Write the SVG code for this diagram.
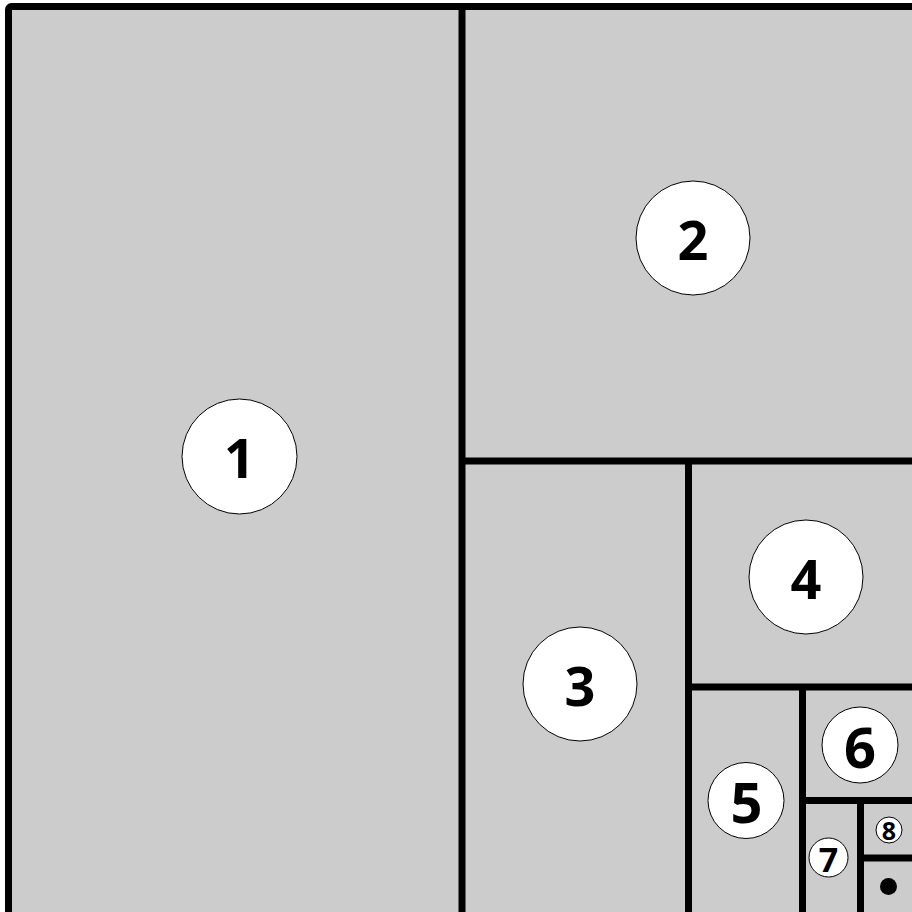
<svg xmlns="http://www.w3.org/2000/svg" width="912" height="912" viewBox="0 0 912 912">
<style>
.cell{fill:#cccccc;stroke:none}
.ln{stroke:#000;stroke-width:7;fill:none}
.c{fill:#fff;stroke:#000;stroke-width:1}
.t{font-family:"Open Sans","Liberation Sans",sans-serif;font-weight:bold;text-anchor:middle;fill:#000}
</style>
<rect width="912" height="912" fill="#ffffff"/>
<rect class="cell" x="8.5" y="7" width="910" height="910"/>
<g id="connectors">
<line class="ln" x1="462" y1="7" x2="462" y2="916"/>
<line class="ln" x1="462" y1="461" x2="916" y2="461"/>
<line class="ln" x1="688.5" y1="461" x2="688.5" y2="916"/>
<line class="ln" x1="688.5" y1="687" x2="916" y2="687"/>
<line class="ln" x1="802.5" y1="687" x2="802.5" y2="916"/>
<line class="ln" x1="802.5" y1="800.5" x2="916" y2="800.5"/>
<line class="ln" x1="860.5" y1="800.5" x2="860.5" y2="916"/>
<line class="ln" x1="860.5" y1="858" x2="916" y2="858"/>
<rect x="8.5" y="6.5" width="912" height="912" rx="3" fill="none" stroke="#000" stroke-width="7"/>
</g>
<g id="n1"><circle class="c" cx="239.5" cy="456.5" r="57.5"/><text class="t" x="239.5" y="478" font-size="54">1</text></g>
<g id="n2"><circle class="c" cx="693" cy="238" r="57"/><text class="t" x="693" y="260" font-size="54">2</text></g>
<g id="n3"><circle class="c" cx="580" cy="684" r="57"/><text class="t" x="580" y="706" font-size="54">3</text></g>
<g id="n4"><circle class="c" cx="806" cy="577" r="57"/><text class="t" x="806" y="599" font-size="54">4</text></g>
<g id="n5"><circle class="c" cx="746" cy="800.5" r="38"/><text class="t" x="746.5" y="823" font-size="56">5</text></g>
<g id="n6"><circle class="c" cx="860" cy="745" r="38"/><text class="t" x="860" y="768" font-size="56">6</text></g>
<g id="n7"><circle class="c" cx="828.5" cy="857.5" r="19.5"/><text class="t" x="828.5" y="872" font-size="34">7</text></g>
<g id="n8"><circle class="c" cx="889" cy="830" r="13"/><text class="t" x="889" y="840" font-size="25">8</text></g>
<g id="n9"><circle cx="888.5" cy="886.5" r="8.5" fill="#000"/></g>
</svg>
